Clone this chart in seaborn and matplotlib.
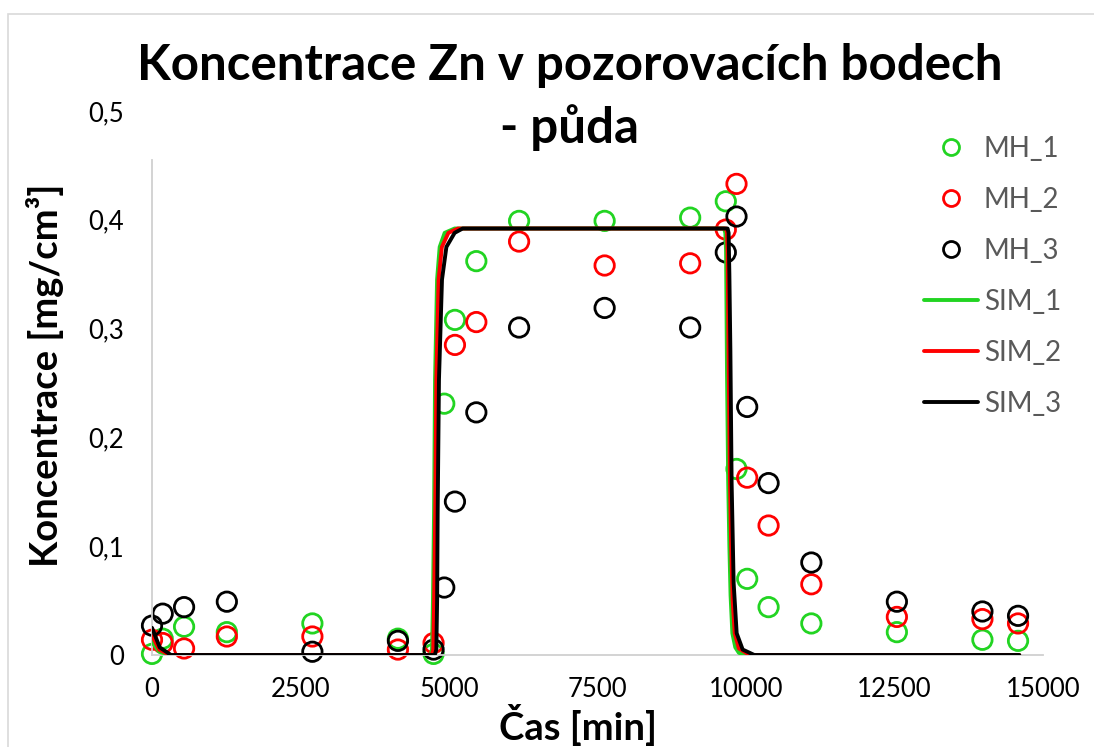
import numpy as np
import pandas as pd
import matplotlib
matplotlib.use("Agg")
import matplotlib.pyplot as plt
import seaborn as sns
from matplotlib.lines import Line2D
from matplotlib.patches import Rectangle

# ---------------- data ----------------
times = [0, 180, 540, 1260, 2700, 4140, 4740, 4920, 5100, 5460, 6180, 7620,
         9060, 9660, 9840, 10020, 10380, 11100, 12540, 13980, 14580]
mh_1 = [0.001, 0.015, 0.026, 0.021, 0.029, 0.015, 0.001, 0.231, 0.308, 0.362, 0.399, 0.399,
        0.402, 0.417, 0.171, 0.070, 0.044, 0.029, 0.021, 0.014, 0.013]
mh_2 = [0.014, 0.011, 0.006, 0.017, 0.017, 0.005, 0.011, np.nan, 0.285, 0.306, 0.380, 0.358,
        0.360, 0.391, 0.433, 0.163, 0.119, 0.065, 0.035, 0.033, 0.029]
mh_3 = [0.027, 0.038, 0.044, 0.049, 0.003, 0.013, 0.005, 0.062, 0.141, 0.223, 0.301, 0.319,
        0.301, 0.370, 0.403, 0.228, 0.158, 0.085, 0.049, 0.040, 0.036]

sim1_t = [0, 120, 300, 4690, 4714, 4730, 4748, 4765, 4799, 4843, 4927, 5095,
          9630, 9652, 9664, 9680, 9700, 9720, 9740, 9770, 9820, 9880, 9980, 14600]
sim1_c = [0.012, 0.003, 0, 0, 0.005, 0.05, 0.13, 0.253, 0.345, 0.375, 0.388, 0.392,
          0.392, 0.388, 0.372, 0.26, 0.16, 0.10, 0.055, 0.02, 0.007, 0.002, 0, 0]
sim2_t = [0, 120, 300, 4710, 4735, 4750, 4768, 4787, 4825, 4880, 4990, 5150,
          9665, 9680, 9690, 9710, 9730, 9750, 9775, 9810, 9880, 10060, 14600]
sim2_c = [0.018, 0.005, 0, 0, 0.005, 0.05, 0.13, 0.253, 0.345, 0.375, 0.388, 0.392,
          0.392, 0.388, 0.37, 0.26, 0.16, 0.10, 0.05, 0.02, 0.006, 0, 0]
sim3_t = [0, 130, 320, 4760, 4787, 4800, 4809, 4831, 4882, 4956, 5095, 5230,
          9690, 9707, 9720, 9737, 9758, 9792, 9843, 9944, 10140, 14600]
sim3_c = [0.025, 0.007, 0, 0, 0.005, 0.05, 0.13, 0.253, 0.345, 0.375, 0.388, 0.392,
          0.392, 0.388, 0.35, 0.28, 0.158, 0.066, 0.02, 0.005, 0, 0]

meas_names = ["MH_1", "MH_2", "MH_3"]
sim_names = ["SIM_1", "SIM_2", "SIM_3"]
x_ticks = [0, 2500, 5000, 7500, 10000, 12500, 15000]
y_ticks = [0, 0.1, 0.2, 0.3, 0.4, 0.5]
y_tick_labels = ["0", "0,1", "0,2", "0,3", "0,4", "0,5"]
title_line1 = "Koncentrace Zn v pozorovacích bodech"
title_line2 = "- půda"
x_label = "Čas [min]"
y_label = "Koncentrace [mg/cm³]"

GREEN, RED, BLACK = "#22d422", "#ff0000", "#000000"
pal_meas = dict(zip(meas_names, [GREEN, RED, BLACK]))
pal_sim = dict(zip(sim_names, [GREEN, RED, BLACK]))

# ---------------- tables ----------------
meas_rows = []
for name, vals in zip(meas_names, [mh_1, mh_2, mh_3]):
    for t, c in zip(times, vals):
        if not np.isnan(c):
            meas_rows.append((name, t, c))
meas = pd.DataFrame(meas_rows, columns=["series", "t", "c"])

sim_rows = []
for name, ts, cs in zip(sim_names, [sim1_t, sim2_t, sim3_t], [sim1_c, sim2_c, sim3_c]):
    for t, c in zip(ts, cs):
        sim_rows.append((name, t, c))
sim = pd.DataFrame(sim_rows, columns=["series", "t", "c"])

# ---------------- figure ----------------
sns.set_theme(style="white")
plt.rcParams['font.family'] = ['Lato', 'DejaVu Sans']

W, H = 1094, 747
fig = plt.figure(figsize=(W / 100, H / 100), dpi=100)
ax = fig.add_axes([152 / W, 1 - 655 / H, 891 / W, 544 / H])

sns.scatterplot(data=meas, x="t", y="c", hue="series", hue_order=meas_names,
                palette=pal_meas, s=195, linewidth=2.0, ax=ax, legend=False, zorder=2)
pts = ax.collections[0]
fcs = pts.get_facecolors()
pts.set_edgecolors(fcs)
pts.set_facecolors("none")
pts.set_clip_on(False)

sns.lineplot(data=sim, x="t", y="c", hue="series", hue_order=sim_names,
             palette=pal_sim, estimator=None, sort=False, linewidth=2.8,
             ax=ax, legend=False, zorder=3)

ax.set_xlim(0, 15000)
ax.set_ylim(0, 0.5)
ax.set_xticks(x_ticks)
ax.set_xticklabels([str(v) for v in x_ticks])
ax.set_yticks(y_ticks)
ax.set_yticklabels(y_tick_labels)
ax.tick_params(axis="both", length=0, labelsize=18.5, labelcolor="#000000")
ax.tick_params(axis="x", pad=16)
ax.tick_params(axis="y", pad=20)
for s in ["top", "right"]:
    ax.spines[s].set_visible(False)
for s in ["left", "bottom"]:
    ax.spines[s].set_color("#d0d0d0")
    ax.spines[s].set_linewidth(1.3)
ax.spines["left"].set_bounds(0, 0.455)
ax.grid(False)

ax.set_xlabel(x_label, fontsize=27.5, fontweight="bold", color="black")
ax.set_ylabel(y_label, fontsize=27.5, fontweight="bold", color="black")
ax.xaxis.label.set_va("center")
ax.yaxis.label.set_va("center")
ax.xaxis.set_label_coords((578 - 152) / 891, (655 - 725) / 544)
ax.yaxis.set_label_coords((45 - 152) / 891, (655 - 375) / 544)

# title
fig.text(570 / W, 1 - 80 / H, title_line1, ha="center", va="baseline",
         fontsize=35.5, fontweight="bold", color="black")
fig.text(570 / W, 1 - 143 / H, title_line2, ha="center", va="baseline",
         fontsize=35.5, fontweight="bold", color="black")

# legend
handles = [Line2D([], [], linestyle="none", marker="o", markersize=11.5,
                  markerfacecolor="none", markeredgecolor=pal_meas[n],
                  markeredgewidth=2.0) for n in meas_names]
handles += [Line2D([], [], color=pal_sim[n], linewidth=2.8) for n in sim_names]
leg = fig.legend(handles, meas_names + sim_names, loc="upper left",
                 bbox_to_anchor=(924 / W, 1 - 136 / H), frameon=False,
                 fontsize=20, labelcolor="#595959", handlelength=1.95,
                 handletextpad=0.2, labelspacing=0.9, borderpad=0,
                 borderaxespad=0)

# chart border
fig.patches.append(Rectangle((8 / W, -0.1), 2, 1 - 14 / H + 0.1, transform=fig.transFigure,
                             fill=False, edgecolor="#d9d9d9", linewidth=1.2))

fig.savefig("out.png", dpi=100)
